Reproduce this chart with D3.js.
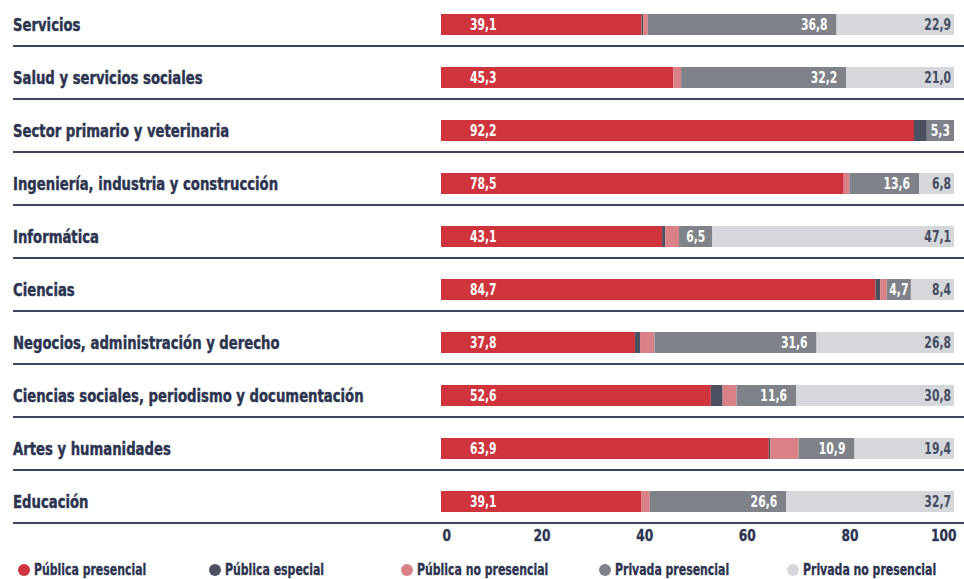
<!DOCTYPE html>
<html>
<head>
<meta charset="utf-8">
<script src="https://cdn.jsdelivr.net/npm/d3@7"></script>
<style>
  html, body { margin: 0; padding: 0; background: #fff; }
  svg { display: block; }
  text { font-family: "Liberation Sans Narrow", "DejaVu Sans Condensed", "Liberation Sans", sans-serif; font-weight: bold; }
</style>
</head>
<body>
<svg id="chart" width="964" height="579"></svg>
<script>
// Ramas de conocimiento
const categories = [
  "Servicios",
  "Salud y servicios sociales",
  "Sector primario y veterinaria",
  "Ingeniería, industria y construcción",
  "Informática",
  "Ciencias",
  "Negocios, administración y derecho",
  "Ciencias sociales, periodismo y documentación",
  "Artes y humanidades",
  "Educación"
];

// Porcentaje de estudiantes por tipo de universidad y modalidad
const publicaPresencial   = [39.1, 45.3, 92.2, 78.5, 43.1, 84.7, 37.8, 52.6, 63.9, 39.1];
const publicaEspecial     = [0.3, 0.0, 2.5, 0.0, 0.6, 0.9, 1.0, 2.3, 0.3, 0.0];
const publicaNoPresencial = [0.9, 1.5, 0.0, 1.1, 2.7, 1.3, 2.8, 2.7, 5.5, 1.6];
const privadaPresencial   = [36.8, 32.2, 5.3, 13.6, 6.5, 4.7, 31.6, 11.6, 10.9, 26.6];
const privadaNoPresencial = [22.9, 21.0, 0.0, 6.8, 47.1, 8.4, 26.8, 30.8, 19.4, 32.7];

const seriesNames = ["Pública presencial", "Pública especial", "Pública no presencial", "Privada presencial", "Privada no presencial"];
const seriesKeys = ["pubPres", "pubEsp", "pubNoPres", "privPres", "privNoPres"];
const seriesColors = ["#cf343d", "#4b5161", "#d98186", "#80828a", "#d6d7da"];
const labelColors = ["#ffffff", "#ffffff", "#ffffff", "#ffffff", "#434c62"];
const tickValues = [0, 20, 40, 60, 80, 100];

const table = categories.map((c, i) => ({
  category: c,
  pubPres: publicaPresencial[i],
  pubEsp: publicaEspecial[i],
  pubNoPres: publicaNoPresencial[i],
  privPres: privadaPresencial[i],
  privNoPres: privadaNoPresencial[i]
}));

const navy = "#2c3450";
const svg = d3.select("#chart");

// Compresión horizontal para un aspecto de tipografía estrecha
const SX_CAT = 0.865, SX_VAL = 0.8, SX_AXIS = 0.85, SX_LEG = 0.81;

const x = d3.scaleLinear().domain([0, 100]).range([441, 954]);
const y = d3.scaleBand().domain(categories).range([-7, 523]).paddingInner(0).paddingOuter(0);
const barOffset = 21, barHeight = 21;
const barMid = c => y(c) + barOffset + barHeight / 2;

const stacked = d3.stack().keys(seriesKeys)(table);
const fmt = v => d3.format(".1f")(v).replace(".", ",");

// Trazo fino para engrosar los textos oscuros
const heavy = (sel, color, w) => sel.attr("stroke", color).attr("stroke-width", w).attr("stroke-linejoin", "round");

// Separadores entre filas
svg.append("g").selectAll("line")
  .data(categories)
  .join("line")
  .attr("x1", 13).attr("x2", 964)
  .attr("y1", d => y(d) + y.bandwidth())
  .attr("y2", d => y(d) + y.bandwidth())
  .attr("stroke", "#3d4661")
  .attr("stroke-width", 1.8);

// Nombres de las ramas
svg.append("g").selectAll("text")
  .data(categories)
  .join("text")
  .attr("transform", d => `translate(13,${barMid(d)}) scale(${SX_CAT},1)`)
  .attr("dy", "0.36em")
  .attr("font-size", 17)
  .attr("fill", navy)
  .call(heavy, navy, 0.4)
  .text(d => d);

// Segmentos apilados
const layers = svg.append("g").selectAll("g")
  .data(stacked)
  .join("g")
  .attr("fill", (d, i) => seriesColors[i]);

layers.selectAll("rect")
  .data(d => d.map(s => ({ s, key: d.key })))
  .join("rect")
  .attr("x", d => x(d.s[0]))
  .attr("y", d => y(d.s.data.category) + barOffset)
  .attr("width", d => Math.max(0, x(d.s[1]) - x(d.s[0])))
  .attr("height", barHeight);

// Etiquetas de valor
const labels = svg.append("g").attr("font-size", 15);

// Pública presencial: fija cerca del inicio de la barra
labels.selectAll("text.pp")
  .data(stacked[0])
  .join("text")
  .attr("class", "pp")
  .attr("transform", d => `translate(${x(d[0]) + 29},${barMid(d.data.category)}) scale(${SX_VAL},1)`)
  .attr("dy", "0.36em")
  .attr("fill", labelColors[0])
  .text(d => fmt(d[1] - d[0]));

// Privada presencial: alineada a la derecha dentro del segmento
labels.selectAll("text.prp")
  .data(stacked[3])
  .join("text")
  .attr("class", "prp")
  .attr("text-anchor", "end")
  .attr("dy", "0.36em")
  .attr("fill", labelColors[3])
  .text(d => fmt(d[1] - d[0]))
  .attr("transform", function(d) {
    const w = this.getComputedTextLength() * SX_VAL;
    const segW = x(d[1]) - x(d[0]);
    const pad = Math.max(1, Math.min(9, (segW - w) / 2));
    return `translate(${x(d[1]) - pad},${barMid(d.data.category)}) scale(${SX_VAL},1)`;
  });

// Privada no presencial: al final de la barra
labels.selectAll("text.pnp")
  .data(stacked[4].filter(d => d[1] - d[0] > 0))
  .join("text")
  .attr("class", "pnp")
  .attr("text-anchor", "end")
  .attr("transform", d => `translate(${x(d[1]) - 3},${barMid(d.data.category)}) scale(${SX_VAL},1)`)
  .attr("dy", "0.36em")
  .attr("fill", labelColors[4])
  .text(d => fmt(d[1] - d[0]));

// Eje horizontal
const axis = svg.append("g")
  .attr("transform", "translate(0,530)")
  .call(d3.axisBottom(x).tickValues(tickValues).tickSize(0).tickPadding(0).tickFormat(d3.format("d")));
axis.select(".domain").remove();
axis.selectAll("text")
  .attr("font-size", 16)
  .attr("font-family", null)
  .attr("fill", navy)
  .call(heavy, navy, 0.3)
  .attr("dy", "0.71em")
  .attr("text-anchor", d => d === 0 ? "start" : d === 100 ? "end" : "middle")
  .attr("transform", d => `translate(${d === 0 ? 1 : d === 100 ? 2 : -2},0) scale(${SX_AXIS},1)`);

// Leyenda
const legendX = [24, 215, 407, 605, 793];
const legend = svg.append("g").selectAll("g")
  .data(seriesNames)
  .join("g")
  .attr("transform", (d, i) => `translate(${legendX[i]},570)`);
legend.append("circle").attr("r", 6).attr("fill", (d, i) => seriesColors[i]);
legend.append("text")
  .attr("transform", `translate(10,0) scale(${SX_LEG},1)`)
  .attr("dy", "0.36em")
  .attr("font-size", 15)
  .attr("fill", navy)
  .call(heavy, navy, 0.3)
  .text(d => d);
</script>
</body>
</html>
